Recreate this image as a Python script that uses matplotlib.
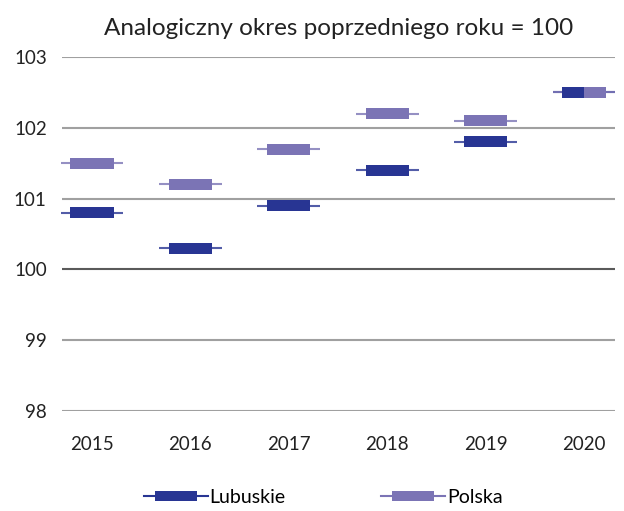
import matplotlib.pyplot as plt
from matplotlib.lines import Line2D

# data
years = ['2015', '2016', '2017', '2018', '2019', '2020']
lubuskie = [100.8, 100.3, 100.9, 101.4, 101.8, 102.5]
polska = [101.5, 101.2, 101.7, 102.2, 102.1, 102.5]
yticks = [98, 99, 100, 101, 102, 103]

c_lub = '#283593'
c_pol = '#7b74b5'

plt.rcParams['font.family'] = ['Lato', 'DejaVu Sans']

fig = plt.figure(figsize=(6.24, 5.11), dpi=100)
ax = fig.add_axes([62 / 624, 1 - 411 / 511, 553 / 624, 354 / 511])

# gridlines
for y in yticks:
    col = '#5a5a5a' if y == 100 else '#a0a0a0'
    ax.axhline(y, color=col, lw=1.5, zorder=1)

x = list(range(len(years)))
bw = 0.44   # thick part
lw_ = 0.64  # thin line span
h = 0.155

for i, (l, p) in enumerate(zip(lubuskie, polska)):
    for v, c in ((l, c_lub), (p, c_pol)):
        ax.hlines(v, i - lw_ / 2, i + lw_ / 2, color=c, lw=1.5, alpha=0.8, zorder=2, clip_on=False)
    if l == p:
        # same value -> show both halves
        ax.bar(i - bw / 4, h, width=bw / 2, bottom=l - h / 2, color=c_lub, zorder=3)
        ax.bar(i + bw / 4, h, width=bw / 2, bottom=p - h / 2, color=c_pol, zorder=3)
    else:
        ax.bar(i, h, width=bw, bottom=l - h / 2, color=c_lub, zorder=3)
        ax.bar(i, h, width=bw, bottom=p - h / 2, color=c_pol, zorder=3)

ax.set_xlim(-0.305, 5.315)
ax.set_ylim(98, 103)
ax.set_xticks(x)
ax.set_xticklabels(years)
ax.set_yticks(yticks)
ax.tick_params(axis='both', length=0, labelsize=13.5, colors='#222222')
ax.tick_params(axis='x', pad=18)
ax.tick_params(axis='y', pad=11)
for s in ax.spines.values():
    s.set_visible(False)

ax.set_title('Analogiczny okres poprzedniego roku = 100', fontsize=17.5, color='#222222', pad=16)

# legend
rect = [(-2, -0.5), (2, -0.5), (2, 0.5), (-2, 0.5), (-2, -0.5)]
handles = [
    Line2D([], [], color=c_lub, lw=1.5, marker=rect, markersize=43 * 0.72, markeredgewidth=0),
    Line2D([], [], color=c_pol, lw=1.5, marker=rect, markersize=43 * 0.72, markeredgewidth=0),
]
fig.legend(handles, ['Lubuskie', 'Polska'], loc='center', bbox_to_anchor=(0.518, 1 - 497 / 511),
           ncol=2, frameon=False, fontsize=14, handlelength=3.3, handletextpad=0.1,
           columnspacing=4.9, numpoints=1)

plt.savefig('out.png', dpi=100)
